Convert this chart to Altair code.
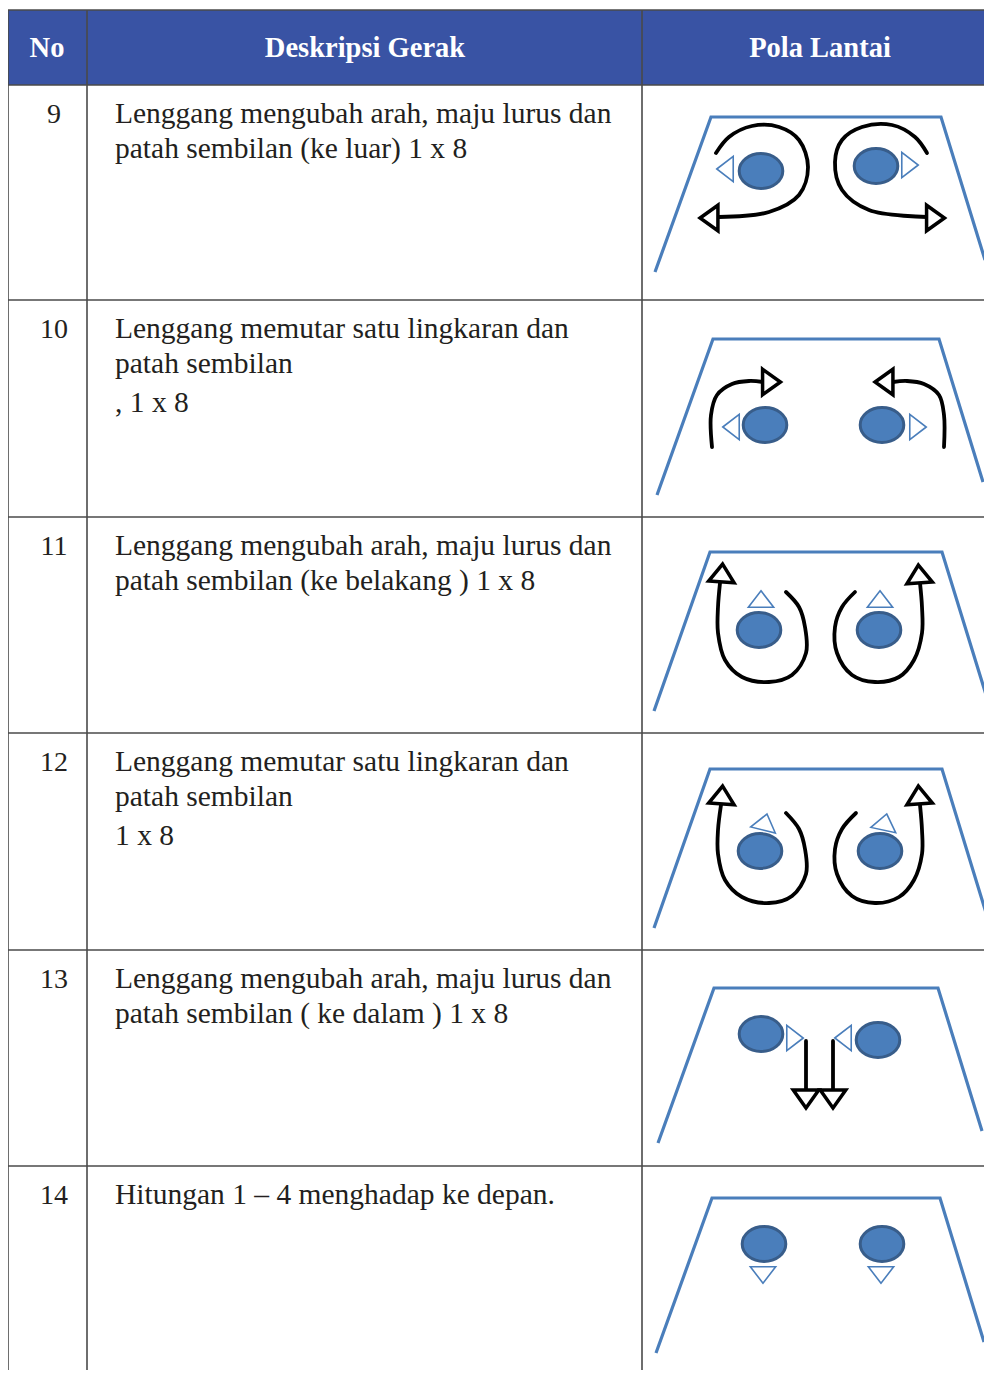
import altair as alt
import pandas as pd

# ---------------- table content ----------------
HEADERS = ["No", "Deskripsi Gerak", "Pola Lantai"]
HEADER_X = [47, 365, 820]
COL_LINES = [8, 87, 642]
ROW_LINES = [85, 300, 517, 733, 950, 1166]
ROW_NO = ["9", "10", "11", "12", "13", "14"]
ROW_TEXT = [
    ["Lenggang mengubah arah, maju lurus dan", "patah sembilan (ke luar) 1 x 8"],
    ["Lenggang memutar satu lingkaran dan", "patah sembilan", ", 1 x 8"],
    ["Lenggang mengubah arah, maju lurus dan", "patah sembilan (ke belakang ) 1 x 8"],
    ["Lenggang memutar satu lingkaran dan", "patah sembilan", "1 x 8"],
    ["Lenggang mengubah arah, maju lurus dan", "patah sembilan ( ke dalam ) 1 x 8"],
    ["Hitungan 1 \u2013 4 menghadap ke depan."],
]

# ---------------- floor pattern drawings ----------------
# stage outline (trapezoid): bottom-left, top-left, top-right, bottom-right
TRAP_X = [
    [655, 711, 941, 985],
    [657, 713, 939, 983],
    [654, 710, 942, 987],
    [654, 710, 942, 987],
    [658, 714, 938, 982],
    [656, 712, 940, 984],
]
TRAP_Y = [
    [272, 117, 117, 260],
    [495, 339, 339, 482],
    [711, 552, 552, 698],
    [928, 769, 769, 916],
    [1143, 988, 988, 1131],
    [1353, 1198, 1198, 1342],
]

# dancers (ellipses)
DANCER_X = [761, 876, 765, 882, 759, 879, 760, 880, 761, 878, 764, 882]
DANCER_Y = [171, 166, 425, 425, 630, 630, 851, 851, 1034, 1040, 1244, 1244]

# facing direction markers (small open triangles), angle 0 = up
FACE_X = [725, 910, 731, 918, 761, 880, 765, 885, 795, 843, 763, 881]
FACE_Y = [169, 165, 427, 427, 599, 599, 822, 822, 1038, 1038, 1275, 1275]
FACE_ANGLE = [270, 90, 270, 90, 0, 0, 14, 12, 90, 270, 180, 180]

# movement paths (black curves)
PATH_X = [
    [716, 729, 752, 779, 799, 808, 799, 769, 719],
    [927, 915, 892, 862, 842, 835, 842, 869, 927],
    [712, 711, 717, 732, 749, 763],
    [944, 944, 939, 924, 907, 893],
    [720, 718, 718, 725, 742, 769, 792, 806, 805, 799, 786],
    [920, 922, 922, 914, 899, 875, 852, 837, 835, 842, 855],
    [721, 718, 718, 725, 742, 769, 792, 806, 805, 799, 786],
    [920, 922, 922, 914, 899, 875, 852, 837, 835, 842, 856],
    [806, 806],
    [833, 833],
]
PATH_Y = [
    [153, 137, 126, 127, 140, 167, 195, 212, 217],
    [153, 137, 125, 127, 140, 162, 190, 210, 217],
    [447, 415, 395, 384, 381, 382],
    [447, 415, 395, 384, 381, 382],
    [583, 607, 633, 660, 677, 682, 675, 653, 627, 607, 592],
    [583, 607, 633, 660, 677, 682, 675, 653, 627, 607, 592],
    [805, 830, 854, 880, 897, 903, 896, 874, 849, 829, 813],
    [805, 830, 854, 880, 897, 903, 896, 874, 849, 829, 813],
    [1041, 1091],
    [1041, 1091],
]

# arrow heads (open black triangles), angle 0 = up
HEAD_X = [709, 935.5, 771.5, 884, 722, 919, 722, 919, 806, 833]
HEAD_Y = [218, 218, 382, 382, 573, 574, 795, 795, 1099, 1099]
HEAD_ANGLE = [270, 90, 90, 270, 4, 356, 4, 356, 180, 180]

# ---------------- build tables ----------------
rows_lines = [{"x": 8, "x2": 992, "y": 10, "y2": 10}]
for y in ROW_LINES:
    rows_lines.append({"x": 8, "x2": 992, "y": y, "y2": y})
for x in COL_LINES:
    rows_lines.append({"x": x, "x2": x, "y": 10, "y2": 1379})
grid_df = pd.DataFrame(rows_lines)

header_bg = pd.DataFrame([{"x": 8, "x2": 992, "y": 10, "y2": 85}])
header_df = pd.DataFrame({"x": HEADER_X, "y": [57] * 3, "t": HEADERS})

no_df = pd.DataFrame({"x": [54] * len(ROW_NO), "y": [r + 38 for r in ROW_LINES], "t": ROW_NO})
desc = []
for r, lines in zip(ROW_LINES, ROW_TEXT):
    for i, line in enumerate(lines):
        desc.append({"x": 115, "y": r + 38 + 35 * i + (4 if i == 2 else 0), "t": line})
desc_df = pd.DataFrame(desc)

trap = []
for i, (xs_, ys_) in enumerate(zip(TRAP_X, TRAP_Y)):
    for k, (x, y) in enumerate(zip(xs_, ys_)):
        trap.append({"id": i, "k": k, "x": x, "y": y})
trap_df = pd.DataFrame(trap)

paths = []
for i, (xs_, ys_) in enumerate(zip(PATH_X, PATH_Y)):
    for k, (x, y) in enumerate(zip(xs_, ys_)):
        paths.append({"id": i, "k": k, "x": x, "y": y})
path_df = pd.DataFrame(paths)

dancer_df = pd.DataFrame({"x": DANCER_X, "y": DANCER_Y})
face_df = pd.DataFrame({"x": FACE_X, "y": FACE_Y, "a": FACE_ANGLE})
head_df = pd.DataFrame({"x": HEAD_X, "y": HEAD_Y, "a": HEAD_ANGLE})

# ---------------- scales ----------------
W, H = 976, 1362
xs = alt.Scale(domain=[8, 8 + W], nice=False, zero=False)
ys = alt.Scale(domain=[8, 8 + H], nice=False, zero=False, reverse=True)
X = alt.X("x:Q", scale=xs, axis=None)
Y = alt.Y("y:Q", scale=ys, axis=None)

BLUE_LINE = "#4a7ebb"
ELLIPSE = ("M -1 0 C -1 -0.442 -0.552 -0.8 0 -0.8 C 0.552 -0.8 1 -0.442 1 0 "
           "C 1 0.442 0.552 0.8 0 0.8 C -0.552 0.8 -1 0.442 -1 0 Z")
TRI_FLAT = "M 0 -0.65 L 1 0.65 L -1 0.65 Z"
TRI_HEAD = "M 0 -0.7 L 1 0.7 L -1 0.7 Z"
SERIF = "Liberation Serif"

bg = alt.Chart(header_bg).mark_rect(color="#3953a4").encode(
    x=X, x2="x2:Q", y=Y, y2="y2:Q")
grid = alt.Chart(grid_df).mark_rule(color="#4a4a4a", strokeWidth=1.6).encode(
    x=X, x2="x2:Q", y=Y, y2="y2:Q")
htext = alt.Chart(header_df).mark_text(
    font=SERIF, fontSize=28.5, fontWeight="bold", color="white", align="center",
    baseline="alphabetic").encode(x=X, y=Y, text="t:N")
ntext = alt.Chart(no_df).mark_text(
    font=SERIF, fontSize=28, color="#231f20", align="center",
    baseline="alphabetic").encode(x=X, y=Y, text="t:N")
dtext = alt.Chart(desc_df).mark_text(
    font=SERIF, fontSize=29.5, color="#231f20", align="left",
    baseline="alphabetic").encode(x=X, y=Y, text="t:N")

traps = alt.Chart(trap_df).mark_line(
    color=BLUE_LINE, strokeWidth=3.2, strokeJoin="miter", clip=True).encode(
    x=X, y=Y, detail="id:N", order="k:Q")
curves = alt.Chart(path_df).mark_line(
    color="black", strokeWidth=3.8, interpolate="catmull-rom", strokeCap="round").encode(
    x=X, y=Y, detail="id:N", order="k:Q")
heads = alt.Chart(head_df).mark_point(
    shape=TRI_HEAD, size=650, filled=True, fill="white", stroke="black",
    strokeWidth=3.5, opacity=1, strokeJoin="miter").encode(
    x=X, y=Y, angle=alt.Angle("a:Q", scale=None))
faces = alt.Chart(face_df).mark_point(
    shape=TRI_FLAT, size=640, filled=True, fill="white", stroke=BLUE_LINE,
    strokeWidth=1.6, opacity=1).encode(
    x=X, y=Y, angle=alt.Angle("a:Q", scale=None))
dancers = alt.Chart(dancer_df).mark_point(
    shape=ELLIPSE, size=1900, filled=True, fill="#4a7ebb", stroke="#385d8a",
    strokeWidth=3, opacity=1).encode(x=X, y=Y)

chart = alt.layer(bg, grid, htext, ntext, dtext, traps, curves, heads, faces, dancers).properties(
    width=W, height=H, padding=0, autosize=alt.AutoSizeParams(type="none"),
    background="white",
).configure_view(stroke=None)

chart.save("out.html", embed_options={"renderer": "svg", "actions": False})
